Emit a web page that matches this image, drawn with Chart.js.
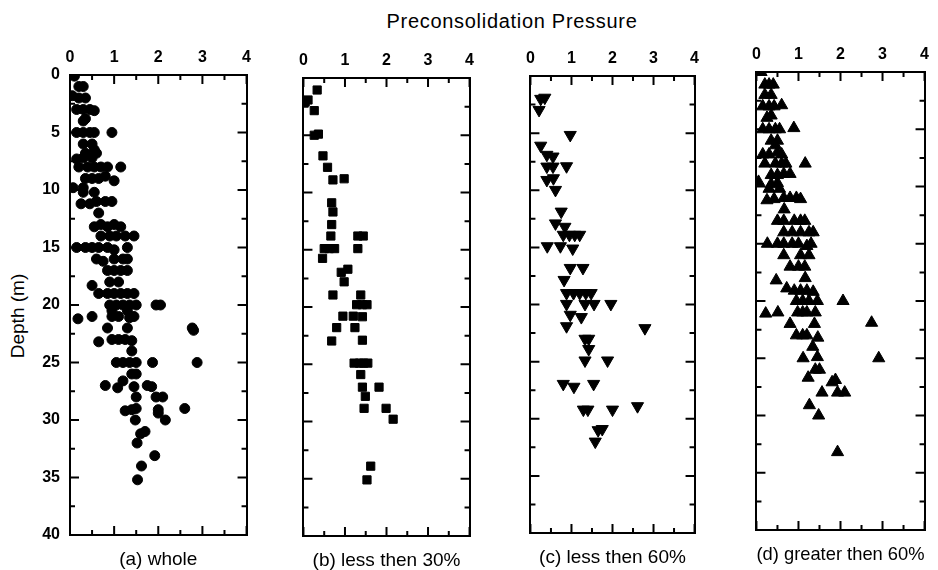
<!DOCTYPE html>
<html><head><meta charset="utf-8">
<script src="https://cdn.jsdelivr.net/npm/chart.js@4.4.0/dist/chart.umd.min.js"></script>
<style>
html,body{margin:0;padding:0;background:#fff;overflow:hidden;}
#wrap{position:relative;width:938px;height:570px;overflow:hidden;background:#fff;font-family:'Liberation Sans',Arial,sans-serif;}
canvas{position:absolute;}
.lbl{position:absolute;color:#000;white-space:nowrap;}
</style></head><body>
<div id="wrap">
<div class="lbl" style="left:512px;top:10px;font-size:20px;line-height:22px;letter-spacing:0.7px;transform:translateX(-50%);">Preconsolidation Pressure</div>
<div class="lbl" style="left:-42px;top:304px;width:120px;height:24px;line-height:24px;text-align:center;font-size:19px;transform:rotate(-90deg);">Depth (m)</div>
<canvas id="ca" width="259" height="530" style="left:0px;top:40px"></canvas>
<canvas id="cb" width="191" height="528" style="left:291px;top:43px"></canvas>
<canvas id="cc" width="189" height="527" style="left:518px;top:41px"></canvas>
<canvas id="cd" width="193" height="528" style="left:744px;top:37px"></canvas>
</div>
<script>
const FONT = "'Liberation Sans', Arial, sans-serif";

// Panel labels
const panelLabels = ['(a) whole', '(b) less then 30%', '(c) less then 60%', '(d) greater then 60%'];
// Axis ranges
const pressureRange = [0, 4];
const depthRange = [0, 40];

// (a) whole
const wholePressure = [0.1,0.2,0.3,0.05,0.2,0.35,0.15,0.3,0.45,0.55,0.3,0.35,0.15,0.3,0.45,0.55,0.95,0.3,0.5,0.35,0.55,0.6,0.15,0.3,0.5,0.2,0.4,0.55,0.7,0.85,1.15,0.35,0.5,0.65,0.8,1.0,0.07,0.3,0.3,0.55,0.25,0.45,0.6,0.8,0.95,0.65,0.55,0.7,0.85,1.0,1.15,0.7,0.9,1.05,1.25,1.45,0.15,0.35,0.5,0.65,0.85,1.0,1.3,0.6,0.75,1.0,1.2,1.3,0.85,1.0,1.15,1.3,0.5,0.9,1.1,0.65,0.85,1.0,1.15,1.3,1.45,0.9,1.05,1.2,1.35,1.5,1.95,2.05,0.95,1.3,0.18,0.5,0.95,1.1,1.35,1.45,0.85,1.3,2.77,2.8,0.65,0.95,1.1,1.25,1.4,1.4,1.05,1.2,1.35,1.5,1.87,2.88,1.4,1.5,1.2,0.8,1.08,1.45,1.75,1.85,1.5,1.95,2.1,1.25,1.4,1.5,2.0,2.0,2.6,1.48,2.16,1.6,1.7,1.52,1.92,1.62,1.53];
const wholeDepth    = [0.1,1,1,1.8,2,2,3,3,3,3.1,4,3.8,5,5,5,5,5,6,6,6.8,6.5,6.8,7.3,7.2,7.2,8,8,8,8,8,8,9,9,9,8.8,9.2,9.8,9.8,10.2,10.2,11.2,11.2,11,11,11,12,13.2,13,13.2,13,13.2,14,14,14,14,14,15,15,15,15,15,15.2,15,16,16.2,16,16,16,17,17,17,17,18.3,18,18,19,19,19,19,19,19,20,20,20,20,20,20,20,20.5,20.5,21.2,21,21,21,21.1,21,22,22,22,22.2,23.2,23,23,23,23.1,24,25,25,25,25,25,25,26,26,26.6,27,27.2,27.1,27,27.1,28,28,28,29.2,29.1,29,29.1,29.4,29,30,30,31.2,31,32,33.1,34,35.2];

// (b) less then 30%
const lt30Pressure = [0.33,0.11,0.04,0.26,0.26,0.36,0.47,0.58,0.71,0.98,0.68,0.71,0.68,0.66,1.31,1.44,0.5,0.62,0.75,1.31,0.46,0.91,1.07,0.98,0.71,1.38,1.28,1.42,1.53,0.95,1.2,1.42,0.8,1.24,0.68,1.42,1.22,1.35,1.45,1.55,1.38,1.42,1.82,1.49,1.46,1.99,2.16,1.62,1.53];
const lt30Depth    = [1.05,1.92,2.1,2.85,5.0,4.9,6.8,7.8,8.9,8.8,10.9,11.7,12.8,13.8,13.8,13.8,14.9,14.9,14.9,14.9,15.75,16.97,16.7,17.8,18.95,18.95,19.8,19.8,19.8,20.8,20.8,20.85,21.8,21.8,22.97,22.9,24.9,24.9,24.9,24.9,25.9,27.0,27.0,27.8,28.85,28.85,29.8,33.9,35.1];

// (c) less then 60%
const lt60Pressure = [0.25,0.35,0.21,0.97,0.25,0.4,0.55,0.4,0.55,0.88,0.4,0.56,0.61,0.75,0.61,0.84,0.8,0.95,1.08,1.2,0.41,0.73,1.03,0.97,1.28,0.82,0.88,1.05,1.2,1.35,1.48,0.88,1.33,1.55,1.96,0.97,1.24,0.88,2.79,1.33,1.42,1.42,1.33,1.88,0.8,1.06,1.54,1.29,1.4,2.0,2.61,1.65,1.75,1.58];
const lt60Depth    = [2.0,1.9,2.97,5.16,6.1,6.9,7.05,7.93,7.93,7.9,9.1,8.95,9.97,11.87,12.9,13.2,13.9,13.9,13.9,13.9,14.9,14.9,15.1,16.8,16.8,17.85,19,19,19,19,19,19.95,19.95,19.95,19.95,20.9,21.1,21.9,22.07,23.0,23.0,23.9,24.9,24.9,26.95,27.2,26.95,29.2,29.2,29.2,28.9,31.0,30.9,32.0];

// (d) greater then 60%
const gt60Pressure = [0.11,0.2,0.3,0.4,0.2,0.35,0.15,0.3,0.42,0.6,0.25,0.35,0.15,0.3,0.45,0.55,0.89,0.35,0.5,0.45,0.15,0.3,0.5,0.6,0.2,0.45,0.6,0.7,1.16,0.35,0.5,0.65,0.8,0.05,0.35,0.5,0.3,0.55,0.25,0.42,0.65,0.8,0.95,1.05,0.66,0.5,0.65,0.9,1.05,1.15,0.65,0.85,1.05,1.25,1.35,0.26,0.5,0.65,0.85,1.0,1.2,1.3,0.65,1.05,1.25,0.8,1.0,1.15,1.16,0.47,0.72,0.9,1.05,1.2,1.35,0.95,1.1,1.25,1.45,2.06,0.22,0.51,0.98,1.1,1.2,1.4,0.8,1.38,2.74,0.95,1.1,1.2,1.46,1.34,1.11,1.45,2.91,1.4,1.5,1.23,1.8,1.88,1.56,1.93,2.1,1.26,1.48,1.93];
const gt60Depth    = [0,1.1,1.1,1.1,2,2,3,3,3,2.9,4,3.8,5,5,5,5,4.9,6,6,6.4,7.2,7.2,7,7.2,8,8,8,8,8,9,9,8.9,8.9,9.6,9.8,9.7,10.2,10.2,11.2,11.1,11,11,11,11.1,12,13,13,13,13,13,14,14,14,14,14,15,15,15,15,15,15.2,15,16,16,16,17,17,17,18,18.2,18.9,19.1,19.1,19.1,19.2,20,20,20,20,20,21.1,21,21,21,21,21,22,22,21.9,23,23,23,23.2,24,25,24.9,25,26,26,26.7,27.1,26.9,28,28,28,29.1,30,33.2];

const innerTicks = {
  id: 'innerTicks',
  afterDatasetsDraw(chart) {
    const {ctx, chartArea: a, scales} = chart;
    const xs = scales.x, ys = scales.y;
    ctx.save();
    ctx.strokeStyle = '#000';
    ctx.lineWidth = 2;
    ctx.beginPath();
    for (let v = xs.min; v <= xs.max + 1e-9; v += 0.5) {
      const px = xs.getPixelForValue(v);
      const len = Math.abs(v - Math.round(v)) < 1e-9 ? 9 : 5;
      ctx.moveTo(px, a.top); ctx.lineTo(px, a.top + len);
      ctx.moveTo(px, a.bottom); ctx.lineTo(px, a.bottom - len);
    }
    for (let v = ys.min; v <= ys.max + 1e-9; v += 2.5) {
      const py = ys.getPixelForValue(v);
      const len = Math.abs(v / 5 - Math.round(v / 5)) < 1e-9 ? 9 : 5;
      ctx.moveTo(a.left, py); ctx.lineTo(a.left + len, py);
      ctx.moveTo(a.right, py); ctx.lineTo(a.right - len, py);
    }
    ctx.stroke();
    ctx.restore();
  }
};

function makeChart(id, pressure, depth, label, style, radius, rot, showY) {
  const pts = pressure.map((v, i) => ({x: v, y: depth[i]}));
  const border = {display: true, color: '#000', width: 2};
  return new Chart(document.getElementById(id), {
    type: 'scatter',
    data: {datasets: [{
      data: pts, pointStyle: style, pointRadius: radius, pointHoverRadius: radius,
      rotation: rot, backgroundColor: '#000', borderColor: '#000', borderWidth: 1
    }]},
    options: {
      responsive: false, animation: false, events: [],
      layout: {padding: {left: showY ? 0 : 4, right: 4, top: 0, bottom: 0}},
      plugins: {
        legend: {display: false}, tooltip: {enabled: false},
        title: {display: true, position: 'bottom', fullSize: false, text: label, color: '#000',
          font: {family: FONT, size: 19, weight: 'normal', lineHeight: 1}, padding: {top: 15, bottom: 1}}
      },
      scales: {
        x: {type: 'linear', position: 'top', min: pressureRange[0], max: pressureRange[1],
          ticks: {stepSize: 1, color: '#000', font: {family: FONT, size: 16, weight: 'bold'}, padding: 8},
          grid: {display: false, drawTicks: false}, border: border,
          afterFit: s => { s.height = 35; }},
        x2: {type: 'linear', position: 'bottom', min: pressureRange[0], max: pressureRange[1],
          ticks: {display: false}, grid: {display: false, drawTicks: false}, border: border,
          afterFit: s => { s.height = 0; }},
        y: {type: 'linear', position: 'left', reverse: true, min: depthRange[0], max: depthRange[1],
          ticks: {display: showY, stepSize: 5, color: '#000', font: {family: FONT, size: 16, weight: 'bold'}, padding: 10},
          grid: {display: false, drawTicks: false}, border: border,
          afterFit: s => { s.width = showY ? 70 : 0; }},
        y2: {type: 'linear', position: 'right', reverse: true, min: depthRange[0], max: depthRange[1],
          ticks: {display: false}, grid: {display: false, drawTicks: false}, border: border,
          afterFit: s => { s.width = 0; }}
      }
    },
    plugins: [innerTicks]
  });
}

makeChart('ca', wholePressure, wholeDepth, panelLabels[0], 'circle', 5, 0, true);
makeChart('cb', lt30Pressure, lt30Depth, panelLabels[1], 'rect', 5.8, 0, false);
makeChart('cc', lt60Pressure, lt60Depth, panelLabels[2], 'triangle', 7, 180, false);
makeChart('cd', gt60Pressure, gt60Depth, panelLabels[3], 'triangle', 7, 0, false);
</script>
</body></html>
